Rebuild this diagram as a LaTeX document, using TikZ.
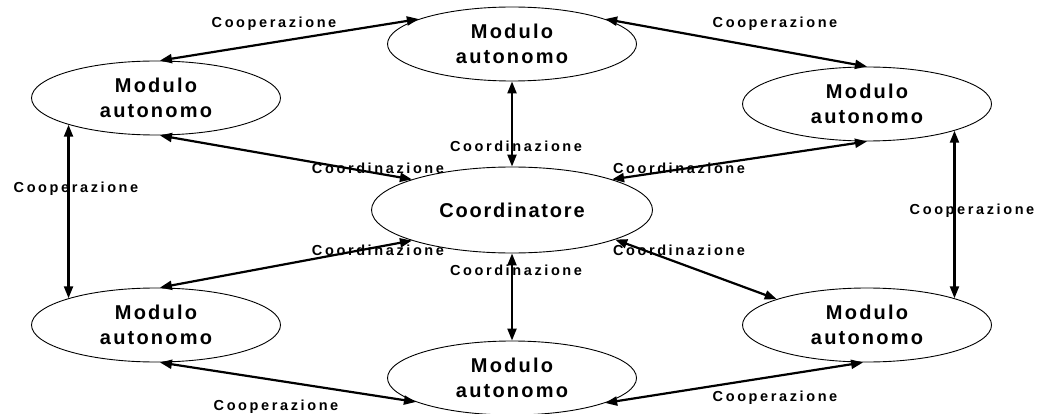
\documentclass[tikz,border=0pt]{standalone}
\usepackage{fontspec}
\setmainfont{Liberation Sans}
\newfontfamily\modfont[LetterSpace=11]{Liberation Sans}
\newfontfamily\coordfont[LetterSpace=9]{Liberation Sans}
\newfontfamily\lblfont[LetterSpace=18]{Liberation Sans}
\usetikzlibrary{arrows.meta,shapes.geometric}
\begin{document}
\begin{tikzpicture}[x=1pt,y=-1pt,
  modulo/.style={ellipse, draw, line width=0.9pt, minimum width=249pt, minimum height=74pt,
    inner sep=0pt, align=center, font=\modfont\bfseries\fontsize{20}{24.5}\selectfont},
  coordin/.style={ellipse, draw, line width=0.9pt, minimum width=281pt, minimum height=86pt,
    inner sep=0pt, font=\coordfont\bfseries\fontsize{20}{24.5}\selectfont},
  conn/.style={line width=2.2pt, {Triangle[length=12pt,width=9pt]}-{Triangle[length=12pt,width=9pt]}},
  lbl/.style={inner sep=0pt, anchor=base, font=\lblfont\bfseries\fontsize{14.5}{16}\selectfont}]
\useasboundingbox (0,0) rectangle (1040,414);
% nodes
\node[modulo]  (TL) at (156,98)  {Modulo\\autonomo};
\node[modulo]  (T)  at (512,44)  {Modulo\\autonomo};
\node[modulo]  (TR) at (867,104) {Modulo\\autonomo};
\node[coordin] (C)  at (512,210) {Coordinatore};
\node[modulo]  (BL) at (156,325) {Modulo\\autonomo};
\node[modulo]  (B)  at (512,378) {Modulo\\autonomo};
\node[modulo]  (BR) at (867,325) {Modulo\\autonomo};
% connectors
\draw[conn] (T.165) -- (TL.84);
\draw[conn] (T.15) -- (TR.90);
\draw[conn] (TL.276) -- (C.163);
\draw[conn] (TR.270) -- (C.17);
\draw[conn] (T.south) -- (C.north);
\draw[conn] (C.south) -- (B.north);
\draw[conn] (C.197) -- (BL.84);
\draw[conn] (C.344) -- (BR.164);
\draw[conn] (TL.197) -- (BL.163);
\draw[conn] (TR.343) -- (BR.17);
\draw[conn] (BL.276) -- (B.194);
\draw[conn] (BR.264) -- (B.345);
% labels
\node[lbl] (l1)  at (274,28)  {Cooperazione};
\node[lbl] (l2)  at (775,28)  {Cooperazione};
\node[lbl] (l3)  at (378,173) {Coordinazione};
\node[lbl] (l4)  at (679,173) {Coordinazione};
\node[lbl] (l5)  at (516,152) {Coordinazione};
\node[lbl] (l6)  at (516,275) {Coordinazione};
\node[lbl] (l7)  at (378,255) {Coordinazione};
\node[lbl] (l8)  at (679,255) {Coordinazione};
\node[lbl] (l9)  at (76,193)  {Cooperazione};
\node[lbl] (l10) at (972,214) {Cooperazione};
\node[lbl] (l11) at (276,410) {Cooperazione};
\node[lbl] (l12) at (775,401) {Cooperazione};
\end{tikzpicture}
\end{document}
